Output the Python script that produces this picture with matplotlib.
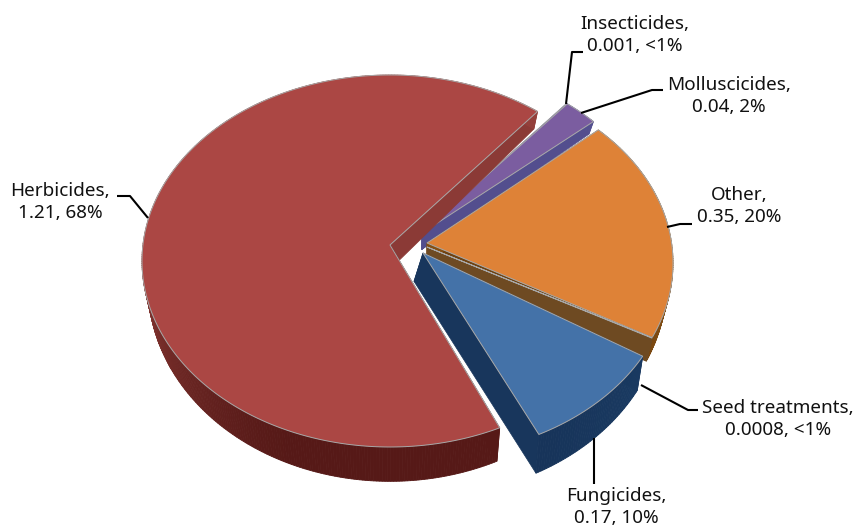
import numpy as np
import matplotlib
matplotlib.use("Agg")
import matplotlib.pyplot as plt
import matplotlib.colors as mc

categories = ["Herbicides", "Fungicides", "Seed treatments", "Other", "Molluscicides", "Insecticides"]
values = [1.21, 0.17, 0.0008, 0.35, 0.04, 0.001]
value_text = ["1.21", "0.17", "0.0008", "0.35", "0.04", "0.001"]
pct_text = ["68%", "10%", "<1%", "20%", "2%", "<1%"]

# styles
top_col = ["#AB4744", "#4472A8", "#3C98B0", "#DE8237", "#7B5DA0", "#7B5DA0"]
wall_hi = ["#94403B", "#1F4670", "#6E4A22", "#8A5212", "#54508F", "#54508F"]
wall_lo = ["#561917", "#17345A", "#6E4A22", "#6B3F10", "#4A4585", "#4A4585"]
centers = [(390, 261), (423, 270), (425, 263), (425, 263), (414, 250), (414, 250)]
apexes = [(390, 245), (423, 253), (427, 247), (427, 243), (422, 233), (422, 233)]
apex_dx = [0, -9, 0, 0, 0, 0]
depth_k = [1.0, 1.15, 0.8, 0.8, 0.7, 0.7]
# perspective nudges of the slice ends, in degrees (start, end)
trim = [(1.5, -1.6), (0, 0), (3.8, 3.8), (3.8, 2.0), (0, 0), (0, 0)]
RX, RY = 248, 186
START = 52.0
draw_order = [5, 4, 3, 2, 1, 0]

label_pos = [(60, 202), (616, 507), (778, 419), (739, 206), (729, 96), (635, 35)]
leaders = [
    [(148, 218), (130, 196), (117, 196)],
    [(594, 438), (594, 484)],
    [(641, 385), (688, 410), (698, 410)],
    [(667, 227), (680, 224), (692, 224)],
    [(581, 113), (652, 90), (663, 90)],
    [(566, 104), (572, 52), (583, 52)],
]

fig = plt.figure(figsize=(8.59, 5.30), dpi=100)
ax = fig.add_axes([0, 0, 1, 1])
ax.set_xlim(0, 859)
ax.set_ylim(530, 0)
ax.axis("off")

sweep = 360.0 * np.array(values) / np.sum(values)
start_angles = START + np.concatenate([[0], np.cumsum(sweep)[:-1]])


def depth(y):
    return 12 + 0.05 * y


def under(x, y, cx, k):
    return cx + (x - cx) * 0.975, y + k * depth(y)


def mix(c1, c2, t):
    a, b = np.array(mc.to_rgb(c1)), np.array(mc.to_rgb(c2))
    return a + (b - a) * t


for i in draw_order:
    cx, cy = centers[i]
    ax_, ay_ = apexes[i]
    k = depth_k[i]
    z0 = 1 + draw_order.index(i) * 3
    a0 = start_angles[i] + trim[i][0]
    a1 = start_angles[i] + sweep[i] + trim[i][1]
    th = np.radians(np.linspace(a0, a1, max(3, int(abs(a1 - a0) * 1.5))))
    xs = cx + RX * np.cos(th)
    ys = cy - RY * np.sin(th)
    hi, lo = wall_hi[i], wall_lo[i]
    # the two cut faces
    for ex, ey in ((xs[0], ys[0]), (xs[-1], ys[-1])):
        bx1, by1 = under(ex, ey, cx, k)
        bx2, by2 = under(ax_, ay_, cx, k)
        bx2 += apex_dx[i]
        col = mix(hi, lo, 0.15) if ey < ay_ else mix(hi, lo, 0.9)
        ax.fill([ex, bx1, bx2, ax_], [ey, by1, by2, ay_], color=col, lw=0.5, zorder=z0)
    # outer wall, shaded strip by strip
    for j in range(len(xs) - 1):
        bx1, by1 = under(xs[j], ys[j], cx, k)
        bx2, by2 = under(xs[j + 1], ys[j + 1], cx, k)
        t = np.clip((ys[j] - 230) / 200, 0, 1)
        c = mix(hi, lo, t)
        ax.fill([xs[j], xs[j + 1], bx2, bx1], [ys[j], ys[j + 1], by2, by1],
                color=c, lw=0.6, zorder=z0 + 1)
    # top surface
    ax.fill(np.r_[ax_, xs], np.r_[ay_, ys], facecolor=top_col[i], edgecolor="#A8A8A8",
            lw=0.7, zorder=z0 + 2)

for pts in leaders:
    p = np.array(pts)
    ax.plot(p[:, 0], p[:, 1], color="black", lw=1.5, zorder=30, solid_capstyle="butt")

for name, v, pc, (lx, ly) in zip(categories, value_text, pct_text, label_pos):
    ax.text(lx, ly, f"{name},\n{v}, {pc}", ha="center", va="center", fontsize=13.6,
            family="Noto Sans", color="#111111", linespacing=1.32, zorder=31)

fig.savefig("out.png", dpi=100)
